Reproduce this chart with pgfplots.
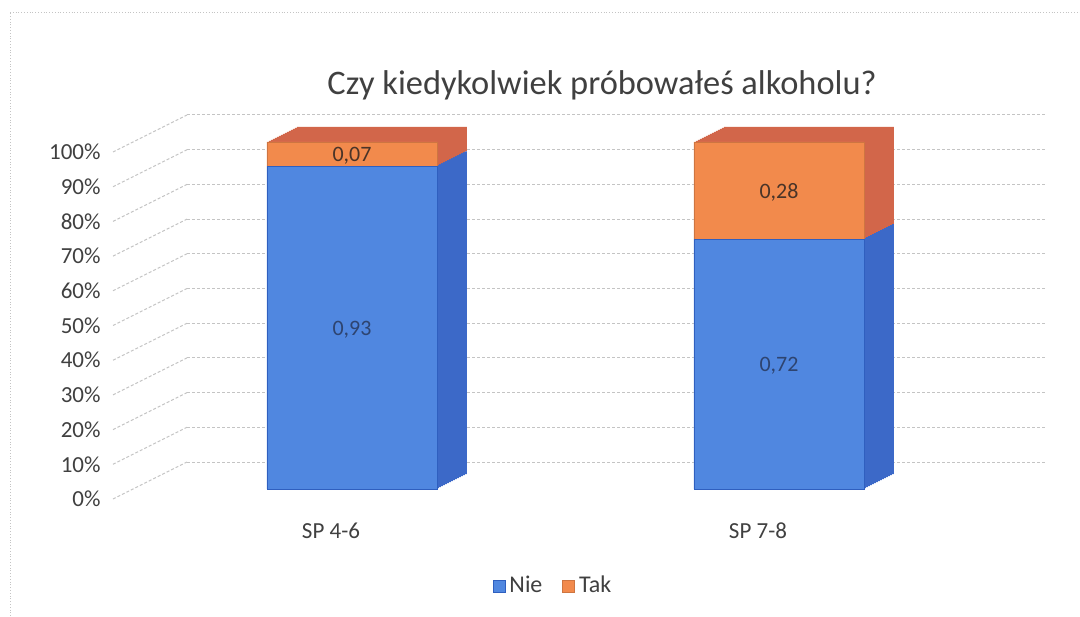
\documentclass[border=0pt]{standalone}
\usepackage{pgfplots}
\pgfplotsset{compat=1.18}
\usepackage{pgfplotstable}
\usepackage{fontspec}
\setmainfont{Carlito}

\definecolor{nie}{HTML}{5087E0}
\definecolor{nieDark}{HTML}{3C69C8}
\definecolor{nieEdge}{HTML}{2F5FBF}
\definecolor{tak}{HTML}{F28A4C}
\definecolor{takDark}{HTML}{D2664A}
\definecolor{gridc}{HTML}{C4C4C4}
\definecolor{txt}{HTML}{404040}
\definecolor{nieLab}{HTML}{2E4470}
\definecolor{takLab}{HTML}{4A3428}

\pgfplotstableread{
x nie tak
0 0.93 0.07
1 0.72 0.28
}\data

\pgfplotsset{base/.style={
  at={(93.5pt,63.5pt)}, anchor=south west,
  scale only axis, width=429pt, height=173.5pt,
  xmin=-0.3864, xmax=1.6230, ymin=0, ymax=1,
  ybar stacked, bar width=85pt,
  xtick={0,1}, ytick={0,0.1,0.2,0.3,0.4,0.5,0.6,0.7,0.8,0.9,1},
}}

\begin{document}
\begin{tikzpicture}
\useasboundingbox (0,0) rectangle (540pt,308pt);
\draw[gridc, densely dotted, line width=0.4pt] (5pt,302pt) -- (540pt,302pt);
\draw[gridc, densely dotted, line width=0.4pt] (5pt,0pt) -- (5pt,302pt);

\begin{axis}[base, clip=false,
  axis line style={draw=none}, major tick length=0pt,
  ymajorgrids,
  grid style={gridc, dash pattern=on 1.5pt off 1pt, yshift=13.5pt, line width=0.5pt},
  xticklabels={SP 4-6, SP 7-8},
  xticklabel style={anchor=center, xshift=-10.5pt, yshift=-21pt, text=txt, font=\fontsize{11.5}{13}\selectfont},
  yticklabel={\pgfmathparse{\tick*100}\pgfmathprintnumber[fixed,precision=0,assume math mode=true]{\pgfmathresult}\%},
  yticklabel style={anchor=east, xshift=-39.7pt, yshift=-5pt, text=txt, font=\fontsize{11.5}{13}\selectfont},
  title={Czy kiedykolwiek próbowałeś alkoholu?},
  title style={at={(0.4837,1.13)}, anchor=center, text=txt, font=\fontsize{17.2}{20}\selectfont},
]
\pgfplotsinvokeforeach{0,0.1,0.2,0.3,0.4,0.5,0.6,0.7,0.8,0.9,1}{
  \draw[gridc, dash pattern=on 1.5pt off 1pt, line width=0.5pt]
    ([yshift=-5pt]axis cs:-0.5597,#1) -- ([yshift=13.5pt]axis cs:-0.3864,#1);
}
\end{axis}

\foreach \k in {15,14,...,1}{
\begin{axis}[base, hide axis, xshift=\k*1pt, yshift=\k*0.5pt]
\addplot[fill=nieDark, draw=none] table[x=x,y=nie]{\data};
\addplot[fill=takDark, draw=none] table[x=x,y=tak]{\data};
\end{axis}
}

\begin{axis}[base, hide axis,
  legend style={at={(0.4277,-0.2795)}, anchor=center, draw=none, fill=none,
    legend columns=2, text=txt, font=\fontsize{12}{14}\selectfont,
    /tikz/every even column/.append style={column sep=8pt}},
  legend image code/.code={\fill[#1] (0pt,-3pt) rectangle (6pt,3pt);},
]
\addplot[fill=nie, draw=nieEdge, line width=0.4pt,
  point meta=\thisrow{nie},
  nodes near coords={\pgfmathprintnumber[fixed,fixed zerofill,precision=2,use comma,assume math mode=true]{\pgfplotspointmeta}},
  every node near coord/.append style={anchor=center, yshift=-1pt, text=nieLab, font=\fontsize{11}{13}\selectfont},
] table[x=x,y=nie]{\data};
\addlegendentry{Nie}
\addplot[fill=tak, draw=tak!85!black, line width=0.3pt,
  point meta=\thisrow{tak},
  nodes near coords={\pgfmathprintnumber[fixed,fixed zerofill,precision=2,use comma,assume math mode=true]{\pgfplotspointmeta}},
  every node near coord/.append style={anchor=center, yshift=-1pt, text=takLab, font=\fontsize{11}{13}\selectfont},
] table[x=x,y=tak]{\data};
\addlegendentry{Tak}
\end{axis}
\end{tikzpicture}
\end{document}
